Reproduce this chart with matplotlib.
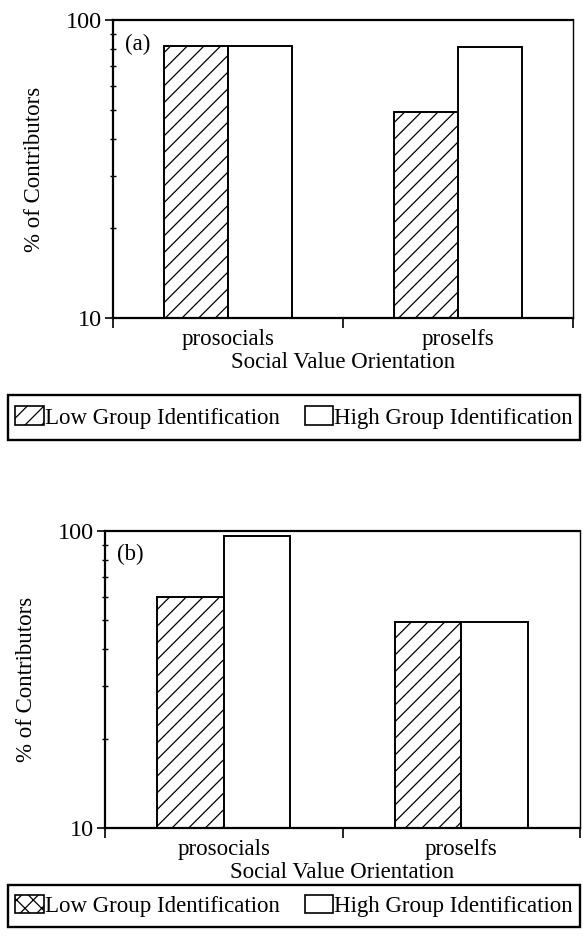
import matplotlib
matplotlib.use("Agg")
import matplotlib.pyplot as plt
from matplotlib.patches import Patch, Rectangle
from matplotlib.ticker import FixedLocator, NullFormatter

plt.rcParams['font.family'] = ['Liberation Serif', 'DejaVu Serif']
plt.rcParams['hatch.linewidth'] = 0.9

categories = ["prosocials", "proselfs"]
series_names = ["Low Group Identification", "High Group Identification"]
panel_a_low = [82, 49]
panel_a_high = [82, 81]
panel_b_low = [60, 49.5]
panel_b_high = [96, 49.5]
panel_labels = ["(a)", "(b)"]
y_tick_labels = ["10", "100"]
x_label = "Social Value Orientation"
y_label = "% of Contributors"

FS = 16.5
W, H = 583, 950
fig = plt.figure(figsize=(W / 100, H / 100), dpi=100)


def px_axes(left, top, right, bottom):
    return fig.add_axes([left / W, 1 - bottom / H, (right - left) / W, (bottom - top) / H])


def draw_panel(ax, low, high, label, ylab_x):
    x = list(range(len(categories)))
    bw = 0.28
    ax.bar([i - bw / 2 for i in x], low, width=bw, bottom=0.0001, color="white",
           edgecolor="black", linewidth=1.4, hatch="//", zorder=2)
    ax.bar([i + bw / 2 for i in x], high, width=bw, bottom=0.0001, color="white",
           edgecolor="black", linewidth=1.4, zorder=2)
    ax.set_yscale("log")
    ax.set_ylim(10, 100)
    ax.set_xlim(-0.5, len(categories) - 0.5)
    ax.yaxis.set_major_locator(FixedLocator([10, 100]))
    ax.set_yticklabels(y_tick_labels)
    ax.yaxis.set_minor_locator(FixedLocator([20, 30, 40, 50, 60, 70, 80, 90]))
    ax.yaxis.set_minor_formatter(NullFormatter())
    ax.tick_params(axis="y", which="major", direction="out", length=6, width=1.2,
                   labelsize=17.5, pad=2)
    ax.tick_params(axis="y", which="minor", direction="inout", length=4, width=1.0)
    ax.xaxis.set_major_locator(FixedLocator([-0.5, 0.5, 1.5]))
    ax.xaxis.set_major_formatter(NullFormatter())
    ax.xaxis.set_minor_locator(FixedLocator(x))
    ax.set_xticklabels(categories, minor=True)
    ax.tick_params(axis="x", which="major", direction="out", length=7, width=1.2)
    ax.tick_params(axis="x", which="minor", length=0, labelsize=FS, pad=8)
    for s in ["left", "bottom", "top"]:
        ax.spines[s].set_linewidth(1.6)
    ax.spines["right"].set_linewidth(1.0)
    ax.set_xlabel(x_label, fontsize=FS, labelpad=1)
    ax.set_ylabel(y_label, fontsize=FS)
    ax.yaxis.set_label_coords(ylab_x, 0.5)
    ax.text(0.025, 0.955, label, transform=ax.transAxes, fontsize=FS,
            ha="left", va="top")


ax1 = px_axes(113, 20, 573, 318)
draw_panel(ax1, panel_a_low, panel_a_high, panel_labels[0], -0.148)
ax2 = px_axes(105, 531, 580, 828)
draw_panel(ax2, panel_b_low, panel_b_high, panel_labels[1], -0.143)


def add_legend(top_px, bottom_px, hatch):
    left, right = 8, 580
    bbox = (left / W, 1 - bottom_px / H, (right - left) / W, (bottom_px - top_px) / H)
    fig.patches.append(Rectangle(bbox[:2], bbox[2], bbox[3], transform=fig.transFigure,
                                 facecolor="white", edgecolor="black", linewidth=1.7,
                                 zorder=1))
    handles = [Patch(facecolor="white", edgecolor="black", hatch=hatch, linewidth=1.2),
               Patch(facecolor="white", edgecolor="black", linewidth=1.2)]
    leg = fig.legend(handles, series_names, ncol=2, loc="center left",
                     bbox_to_anchor=bbox,
                     mode="expand", fontsize=FS, frameon=False,
                     handlelength=1.25, handleheight=0.85, handletextpad=0.05,
                     columnspacing=0.8, borderpad=0.3, borderaxespad=0)
    leg.set_zorder(2)
    return leg


add_legend(395, 440, "//")
add_legend(885, 927, "xx")

fig.savefig("out.png", dpi=100)
